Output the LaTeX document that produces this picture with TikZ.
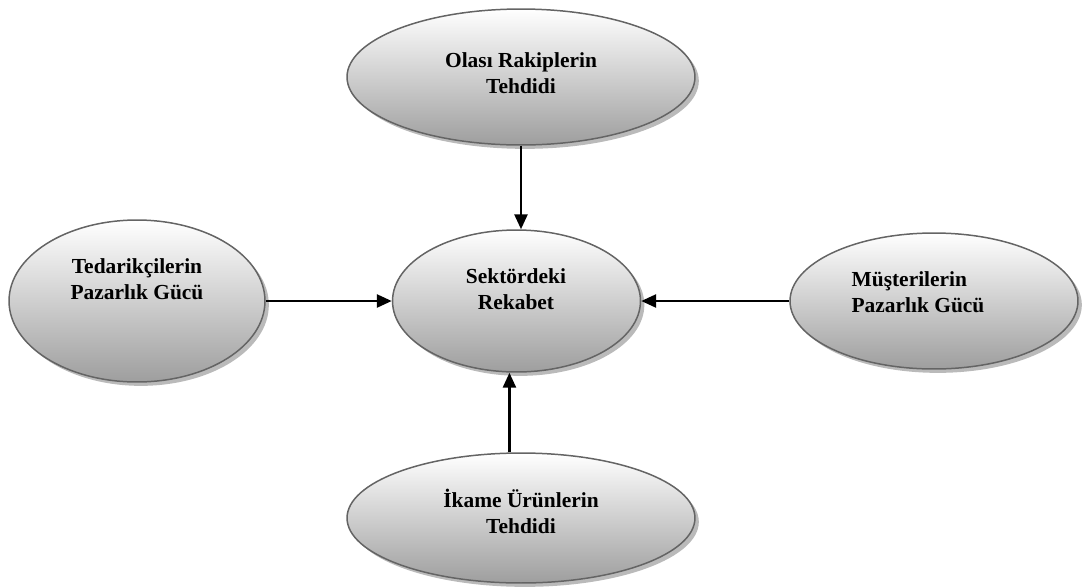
\documentclass[tikz,border=0pt]{standalone}
\usepackage{fontspec}
\setmainfont{Liberation Serif}
\usetikzlibrary{positioning,shapes.geometric,arrows.meta,shadows}
\definecolor{rim}{HTML}{646464}

\begin{document}
\begin{tikzpicture}[x=0.02cm, y=-0.02cm,
    force/.style={ellipse, draw=rim, line width=0.85pt, inner sep=0pt,
        top color=white, bottom color=black!38,
        drop shadow={shadow xshift=2.2pt, shadow yshift=-2.2pt, fill=black!30, opacity=0.9}},
    label text/.style={font=\fontsize{12.2}{14.7}\selectfont\bfseries, align=center},
    push/.style={-{Triangle[length=0.3cm, width=0.26cm]}, line width=1.5pt}]
    \useasboundingbox (0,0) rectangle (1083,586);

    % Ellipses
    \node[force, minimum width=6.96cm, minimum height=2.72cm] (olasi) at (521,77) {};
    \node[force, minimum width=4.96cm, minimum height=2.84cm] (sektor) at (516.5,301) {};
    \node[force, minimum width=5.12cm, minimum height=3.24cm] (tedarik) at (137,301) {};
    \node[force, minimum width=5.76cm, minimum height=2.72cm] (musteri) at (934,301) {};
    \node[force, minimum width=6.96cm, minimum height=2.6cm] (ikame) at (521,518) {};

    % Texts
    \node[label text] (olasi-t) at (521,73) {Olası Rakiplerin\\Tehdidi};
    \node[label text] (sektor-t) at (516,289) {Sektördeki\\Rekabet};
    \node[label text] (tedarik-t) at (137,279) {Tedarikçilerin\\Pazarlık Gücü};
    \node[label text, align=left] (musteri-t) at (918,292) {Müşterilerin\\Pazarlık Gücü};
    \node[label text] (ikame-t) at (521,511) {İkame Ürünlerin\\Tehdidi};

    % Arrows
    \draw[push] (olasi.south) -- (olasi.south |- sektor.north);
    \draw[push] (tedarik.east) -- (sektor.west);
    \draw[push] (musteri.west) -- (sektor.east);
    \draw[push] (ikame.100) -- (ikame.100 |- sektor.south);
\end{tikzpicture}
\end{document}
